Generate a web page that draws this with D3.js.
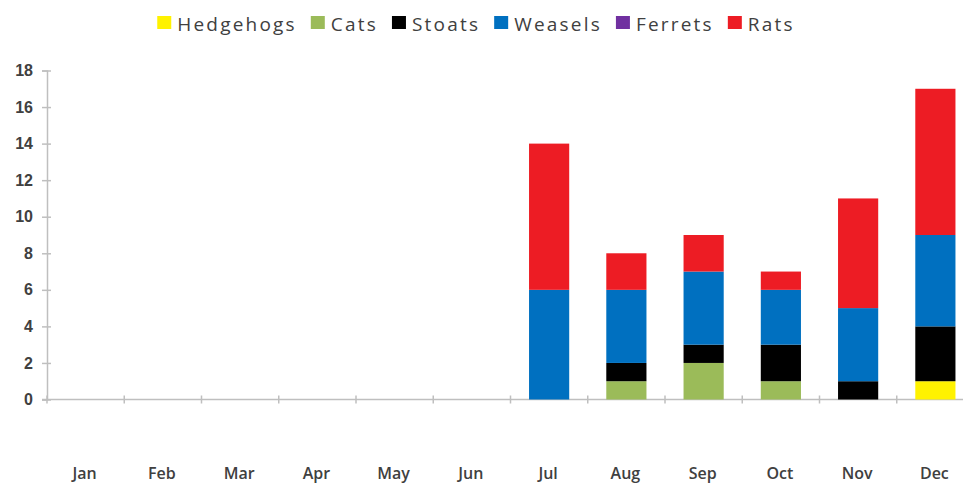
<!DOCTYPE html>
<html>
<head>
<meta charset="utf-8">
<script src="https://cdn.jsdelivr.net/npm/d3@7"></script>
<style>
  body { margin: 0; background: #fff; }
  svg { display: block; font-family: "Open Sans", "Liberation Sans", sans-serif; }
</style>
</head>
<body>
<svg id="chart" width="963" height="485"></svg>
<script>
// Chart data
var months = ["Jan", "Feb", "Mar", "Apr", "May", "Jun", "Jul", "Aug", "Sep", "Oct", "Nov", "Dec"];
var species = ["Hedgehogs", "Cats", "Stoats", "Weasels", "Ferrets", "Rats"];
var colours = ["#FFF200", "#9BBB59", "#000000", "#0070C0", "#7030A0", "#ED1C24"];

var hedgehogs = [0, 0, 0, 0, 0, 0, 0, 0, 0, 0, 0, 1];
var cats      = [0, 0, 0, 0, 0, 0, 0, 1, 2, 1, 0, 0];
var stoats    = [0, 0, 0, 0, 0, 0, 0, 1, 1, 2, 1, 3];
var weasels   = [0, 0, 0, 0, 0, 0, 6, 4, 4, 3, 4, 5];
var ferrets   = [0, 0, 0, 0, 0, 0, 0, 0, 0, 0, 0, 0];
var rats      = [0, 0, 0, 0, 0, 0, 8, 2, 2, 1, 6, 8];

var yTicks = [0, 2, 4, 6, 8, 10, 12, 14, 16, 18];

// build rows for d3.stack
var series = [hedgehogs, cats, stoats, weasels, ferrets, rats];
var rows = months.map(function(m, i) {
  var r = { month: m };
  species.forEach(function(s, k) { r[s] = series[k][i]; });
  return r;
});

var svg = d3.select("#chart");
var margin = { left: 47, top: 70.5, bottom: 399.5 };
var plotRight = 974;

var x = d3.scaleBand().domain(months).range([margin.left, plotRight]).paddingInner(0.48).paddingOuter(0.24);
var xEdges = d3.scaleBand().domain(months).range([margin.left, plotRight]);
var y = d3.scaleLinear().domain([0, 18]).range([margin.bottom, margin.top]);

var color = d3.scaleOrdinal().domain(species).range(colours);

/////////// Axes ///////////

var axisCol = "#BFBFBF";
var labelCol = "#404040";

// y axis
var yAxis = svg.append("g")
  .attr("transform", "translate(" + margin.left + ",0)")
  .call(d3.axisLeft(y).tickValues(yTicks).tickSize(5).tickPadding(9));
yAxis.select(".domain").attr("stroke", axisCol).attr("stroke-width", 1.5);
yAxis.selectAll(".tick line").attr("stroke", axisCol).attr("stroke-width", 1.5).attr("x2", 4).attr("x1", -5);
yAxis.selectAll(".tick text")
  .attr("fill", labelCol).attr("font-size", 16).attr("font-weight", 600)
  .attr("x", -14);

// x axis line with tick marks at category edges
var xAxisG = svg.append("g");
xAxisG.append("line")
  .attr("x1", margin.left - 5).attr("x2", plotRight)
  .attr("y1", y(0)).attr("y2", y(0))
  .attr("stroke", axisCol).attr("stroke-width", 1.5);
xAxisG.selectAll(".xtick")
  .data(months)
  .enter().append("line")
  .attr("class", "xtick")
  .attr("x1", function(d) { return xEdges(d); })
  .attr("x2", function(d) { return xEdges(d); })
  .attr("y1", y(0) - 4).attr("y2", y(0) + 4)
  .attr("stroke", axisCol).attr("stroke-width", 1.5);

xAxisG.selectAll(".xlabel")
  .data(months)
  .enter().append("text")
  .attr("class", "xlabel")
  .attr("x", function(d) { return xEdges(d) + xEdges.bandwidth() / 2 - 1; })
  .attr("y", 479)
  .attr("text-anchor", "middle")
  .attr("fill", labelCol).attr("font-size", 16).attr("font-weight", 600)
  .text(function(d) { return d; });

/////////// Bars ///////////

var stack = d3.stack().keys(species);
var layers = stack(rows);

svg.append("g").selectAll("g")
  .data(layers)
  .enter().append("g")
    .attr("fill", function(d) { return color(d.key); })
  .selectAll("rect")
  .data(function(d) { return d; })
  .enter().append("rect")
    .attr("x", function(d) { return x(d.data.month); })
    .attr("width", x.bandwidth())
    .attr("y", function(d) { return y(d[1]); })
    .attr("height", function(d) { return y(d[0]) - y(d[1]); });

/////////// Legend ///////////

var legend = svg.append("g");
var lx = 0;
species.forEach(function(s) {
  var item = legend.append("g").attr("transform", "translate(" + lx + ",0)");
  item.append("rect").attr("x", 0).attr("y", 16).attr("width", 14).attr("height", 13).attr("fill", color(s));
  var t = item.append("text")
    .attr("x", 20).attr("y", 31)
    .attr("font-size", 19).attr("letter-spacing", 2.2)
    .attr("fill", labelCol)
    .text(s);
  lx += 20 + t.node().getComputedTextLength() + 14;
});
var lw = lx - 14;
legend.attr("transform", "translate(" + (476 - lw / 2) + ",0)");
</script>
</body>
</html>
